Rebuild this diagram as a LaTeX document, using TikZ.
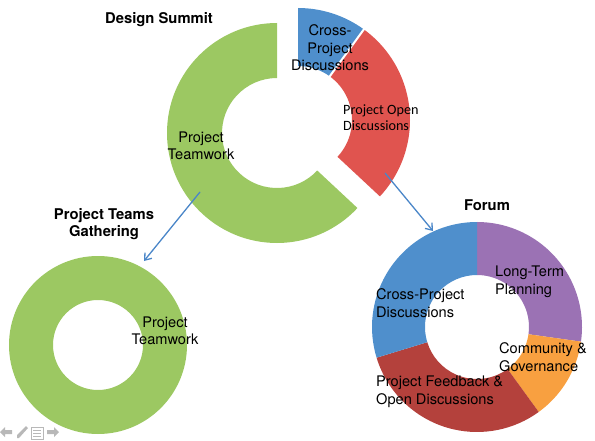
\documentclass[tikz,border=0pt]{standalone}
\usepackage{fontspec}
\setmainfont{TeX Gyre Heros}
\newfontfamily\calfont{Carlito}
\usetikzlibrary{arrows.meta,calc}
\definecolor{cgreen}{HTML}{9CC862}
\definecolor{cblue}{HTML}{4F8FCC}
\definecolor{cred}{HTML}{E0544F}
\definecolor{cpurple}{HTML}{9B72B4}
\definecolor{corange}{HTML}{F8A040}
\definecolor{cdred}{HTML}{B4413C}
\definecolor{carrow}{HTML}{4A86C8}
\definecolor{cicon}{HTML}{B8B8B8}
\newcommand{\ringseg}[6]{% color, center, R, r, a1, a2
  \fill[#1] ($(#2)+(#5:#3)$) arc[start angle=#5,end angle=#6,radius=#3]
    -- ($(#2)+(#6:#4)$) arc[start angle=#6,end angle=#5,radius=#4] -- cycle;}
\tikzset{
  title/.style={font=\fontsize{14.8}{17}\selectfont\bfseries,align=center,inner sep=0pt},
  lbl/.style={font=\fontsize{14.6}{17.5}\selectfont,align=center,inner sep=0pt},
  lbll/.style={font=\fontsize{14.6}{17.5}\selectfont,align=left,inner sep=0pt,anchor=west},
  conn/.style={carrow,line width=1.3pt,-{Straight Barb[length=6pt,width=9pt]}},
}
\begin{document}
\begin{tikzpicture}[x=1pt,y=1pt]
\useasboundingbox (0,0) rectangle (595,440);
% centres
\coordinate (ds) at (277,307);
\coordinate (dx) at (298,320);
\coordinate (ptg) at (98,95);
\coordinate (fo) at (477,113);
% Design Summit donut
\ringseg{cgreen}{ds}{110}{55}{90}{317}
\ringseg{cred}{dx}{112}{54}{-43}{54}
\ringseg{cblue}{dx}{112}{54}{54}{90}
\draw[white,line width=2pt] ($(dx)+(54:50)$) -- ($(dx)+(54:116)$);
% Project Teams Gathering donut
\ringseg{cgreen}{ptg}{89}{45}{0}{360}
% Forum donut
\ringseg{cpurple}{fo}{105}{52}{-8}{90}
\ringseg{corange}{fo}{105}{52}{-54}{-8}
\ringseg{cdred}{fo}{105}{52}{-163}{-54}
\ringseg{cblue}{fo}{105}{52}{90}{197}
% titles
\node[title] (tds) at (159,420) {Design Summit};
\node[title] (tptg) at (104,216) {Project Teams\\Gathering};
\node[title] (tfo) at (487,235) {Forum};
% labels
\node[lbl] (l1) at (330,392) {Cross-\\Project\\Discussions};
\node[font=\calfont\fontsize{14.2}{16}\selectfont,align=left,inner sep=0pt,anchor=west] (l2) at (343,322) {Project Open\\Discussions};
\node[lbl] (l3) at (201,294) {Project\\Teamwork};
\node[lbl] (l4) at (165,109) {Project\\Teamwork};
\node[lbll] (l5) at (495,158) {Long-Term\\Planning};
\node[lbll] (l6) at (376,137) {Cross-Project\\Discussions};
\node[lbll] (l7) at (499,83) {Community \&\\Governance};
\node[lbll] (l8) at (376,48) {Project Feedback \&\\Open Discussions};
% connectors
\coordinate (a1s) at (200,248);
\coordinate (a1e) at (144,179);
\coordinate (a2s) at (385,267);
\coordinate (a2e) at (433,209);
\draw[conn] (a1s) -- (a1e);
\draw[conn] (a2s) -- (a2e);
% player controls
\fill[cicon] (0,8) -- (5,13) -- (5,10) -- (12,10) -- (12,6) -- (5,6) -- (5,3) -- cycle;
\fill[cicon] (17,2) -- (19,2) -- (28,12) -- (26,14) -- (17,5) -- cycle;
\draw[cicon,line width=0.8pt] (31,1) rectangle (43,13);
\draw[cicon,line width=0.8pt] (33,4) -- (41,4) (33,7) -- (41,7) (33,10) -- (41,10);
\fill[cicon] (59,8) -- (54,13) -- (54,10) -- (47,10) -- (47,6) -- (54,6) -- (54,3) -- cycle;
\end{tikzpicture}
\end{document}
